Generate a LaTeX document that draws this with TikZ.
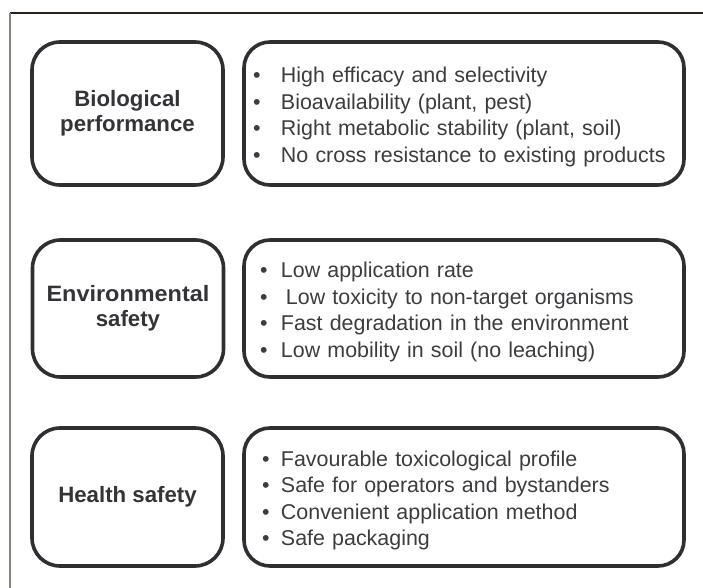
\documentclass[tikz,border=0pt]{standalone}
\usepackage{graphicx}
\usepackage{fontspec}
\setmainfont{Liberation Sans}

\definecolor{boxline}{HTML}{2E2E33}
\definecolor{headtext}{HTML}{333338}
\definecolor{listtext}{HTML}{3C3C40}
\definecolor{frametop}{HTML}{2A1E1A}
\definecolor{frameside}{HTML}{8B847C}

% bullet in a box of fixed width, so the item texts line up
\newcommand{\bul}[1]{\makebox[#1][l]{\textbullet}}
% taller first line, pushes the item list a little down
\newcommand{\toprow}{\rule{0pt}{22.5bp}}

\begin{document}
\begin{tikzpicture}[x=1bp,y=-1bp,
    headbox/.style={draw=boxline, line width=3.6bp, rounded corners=28bp,
        minimum width=191bp, align=center, text=headtext,
        font=\fontsize{22.3}{25}\selectfont\bfseries},
    listbox/.style={draw=boxline, line width=3.6bp, rounded corners=26bp,
        minimum width=440bp, inner xsep=9bp, text width=422bp, align=left,
        text=listtext, font=\fontsize{21.5}{26.6}\selectfont}]
    \useasboundingbox (0,0) rectangle (703,588);

    % frame lines
    \draw[frametop, line width=1.3bp] (9.5,13) -- (703,13);
    \draw[frameside, line width=2bp] (10,13) -- (10,588);

    % biological performance
    \node[headbox, minimum height=143bp] (bio) at (127.5,113.5) {Biological\\performance};
    \node[listbox, minimum height=143bp] (bioitems) at (464,113.5) {%
        \toprow\bul{28bp}High efficacy and selectivity\\
        \bul{28bp}Bioavailability (plant, pest)\\
        \bul{28bp}Right metabolic stability (plant, soil)\\
        \bul{28bp}No cross resistance to existing products};

    % environmental safety
    \node[headbox, minimum height=137bp] (env) at (128,308.5) {\scalebox{1.055}[1]{Environmental}\\safety};
    \node[listbox, minimum height=137bp] (envitems) at (464,308.5) {%
        \toprow\hspace*{7bp}\bul{21bp}Low application rate\\
        \hspace*{7bp}\bul{21bp}\hspace*{5bp}Low toxicity to non-target organisms\\
        \hspace*{7bp}\bul{21bp}Fast degradation in the environment\\
        \hspace*{7bp}\bul{21bp}Low mobility in soil (no leaching)};

    % health safety
    \node[headbox, minimum height=138bp] (health) at (127.5,497) {Health safety};
    \node[listbox, minimum height=138bp] (healthitems) at (464,497) {%
        \toprow\hspace*{9bp}\bul{19bp}Favourable toxicological profile\\
        \hspace*{9bp}\bul{19bp}Safe for operators and bystanders\\
        \hspace*{9bp}\bul{19bp}Convenient application method\\
        \hspace*{9bp}\bul{19bp}Safe packaging};
\end{tikzpicture}
\end{document}
